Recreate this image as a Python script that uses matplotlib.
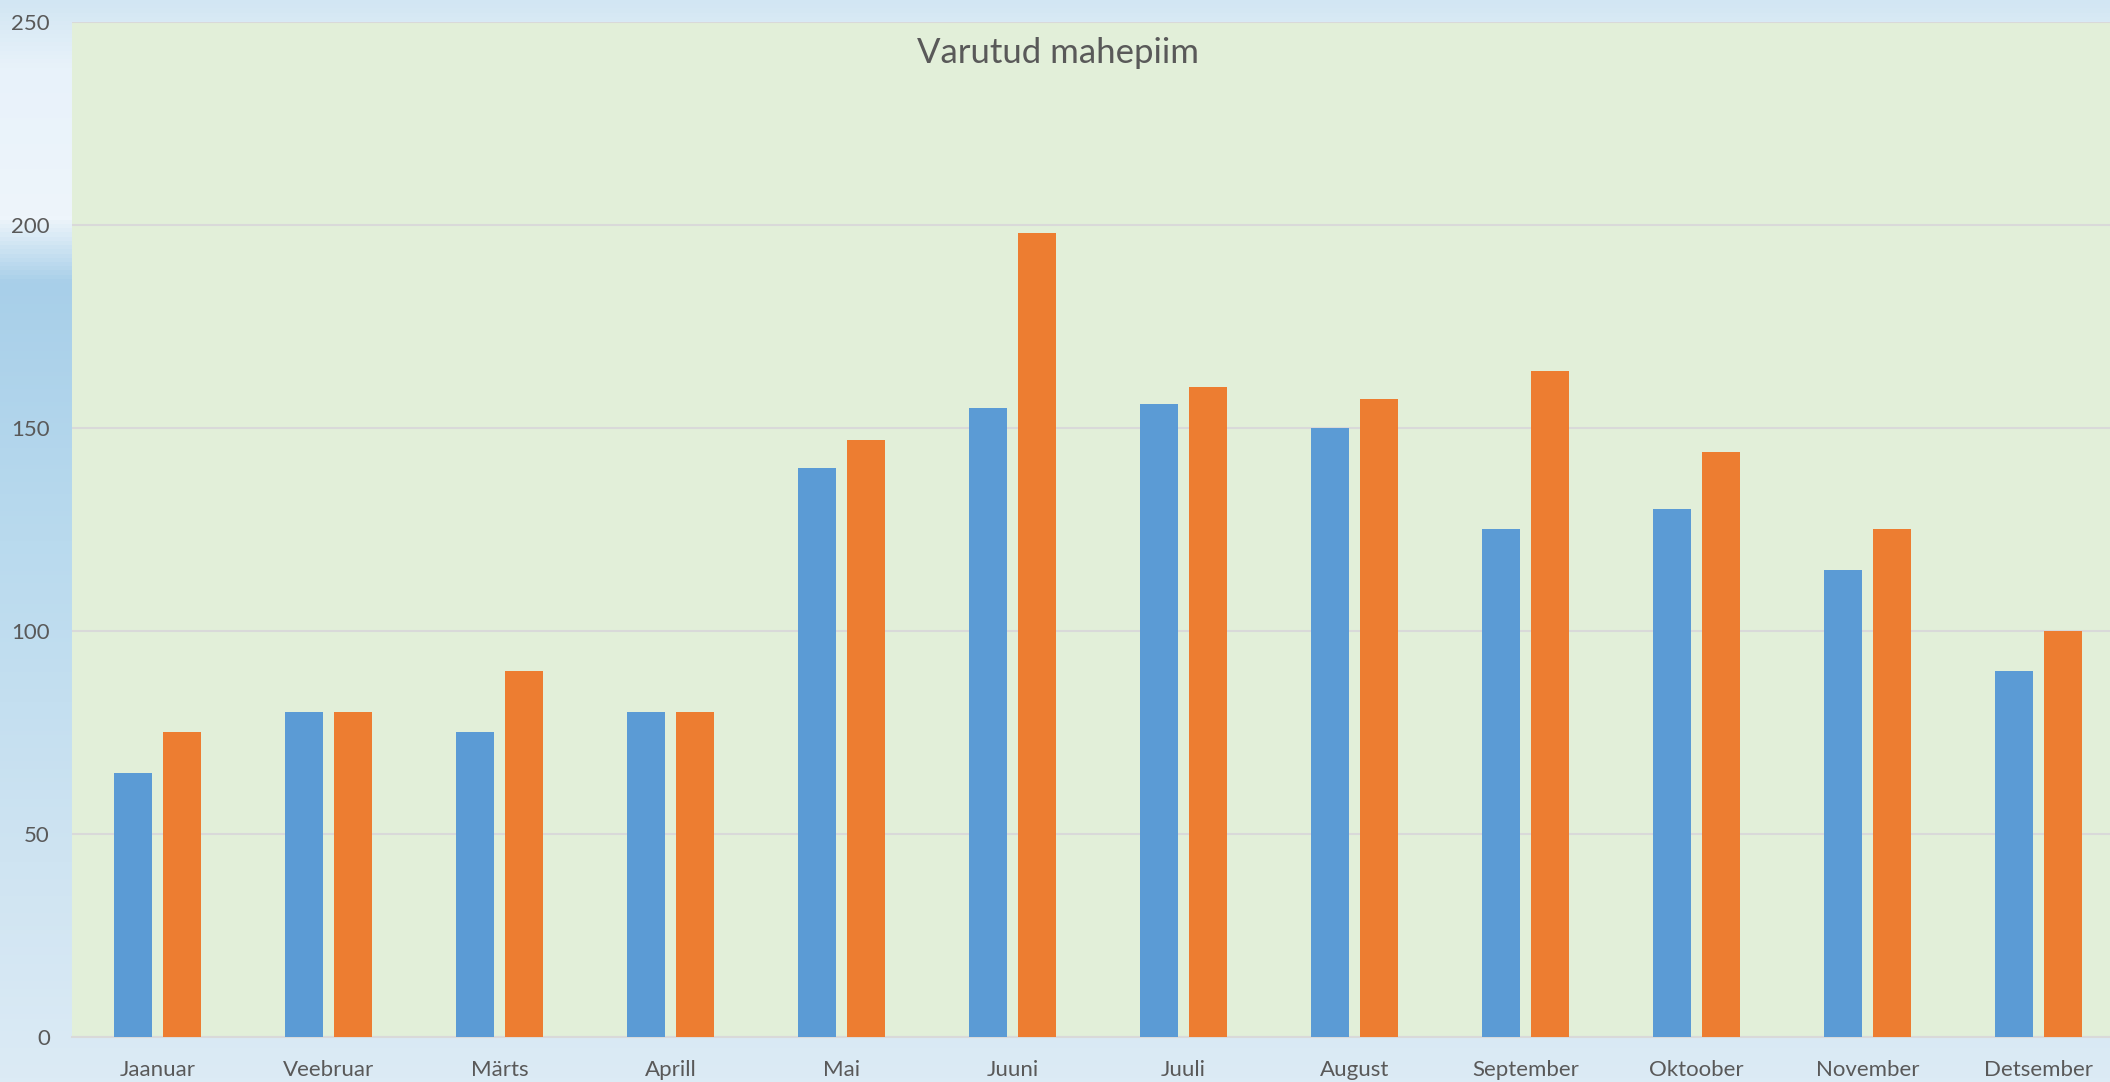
import numpy as np
import matplotlib
matplotlib.use("Agg")
import matplotlib.pyplot as plt
from matplotlib.colors import LinearSegmentedColormap

months = ["Jaanuar", "Veebruar", "Märts", "Aprill", "Mai", "Juuni",
          "Juuli", "August", "September", "Oktoober", "November", "Detsember"]
series_blue = [65, 80, 75, 80, 140, 155, 156, 150, 125, 130, 115, 90]
series_orange = [75, 80, 90, 80, 147, 198, 160, 157, 164, 144, 125, 100]
y_ticks = [0, 50, 100, 150, 200, 250]
title = "Varutud mahepiim"

plt.rcParams["font.family"] = ["Lato", "DejaVu Sans"]
text_color = "#595959"

fig = plt.figure(figsize=(21.1, 10.82), dpi=100)

# sky-ish backdrop behind the chart
bg = fig.add_axes([0, 0, 1, 1], zorder=-10)
sky = LinearSegmentedColormap.from_list("sky", [
    (0.0, "#d2e6f3"), (0.06, "#e8f2fa"), (0.2, "#eef5fb"),
    (0.26, "#a8cfe9"), (0.5, "#b9daee"), (0.8, "#cfe4f2"), (1.0, "#dcebf5")])
grad = np.linspace(0, 1, 256).reshape(-1, 1)
bg.imshow(grad, aspect="auto", cmap=sky, extent=[0, 1, 0, 1], origin="upper")
bg.axis("off")

ax = fig.add_axes([72 / 2110, 45.3 / 1082, 2052 / 2110, 1014.7 / 1082])
ax.set_facecolor("#e2efd9")

x = np.arange(len(months))
w = 0.222
off = 0.143
ax.bar(x - off, series_blue, width=w, color="#5b9bd5", zorder=3)
ax.bar(x + off, series_orange, width=w, color="#ed7d31", zorder=3)

ax.set_xlim(-0.5, len(months) - 0.5)
ax.set_ylim(0, 250)
ax.set_yticks(y_ticks)
ax.set_xticks(x)
ax.set_xticklabels(months)
ax.tick_params(axis="both", length=0, labelsize=16, colors=text_color)
ax.tick_params(axis="y", pad=16)
ax.tick_params(axis="x", pad=17)

ax.grid(axis="y", color="#d9d9d9", linewidth=1.5, zorder=1)
for s in ["top", "right", "left"]:
    ax.spines[s].set_visible(False)
ax.spines["bottom"].set_color("#d9d9d9")
ax.spines["bottom"].set_linewidth(1.5)

fig.text(1058 / 2110, 1 - 53 / 1082, title, ha="center", va="center",
         fontsize=25, color=text_color)

fig.savefig("out.png", dpi=100)
